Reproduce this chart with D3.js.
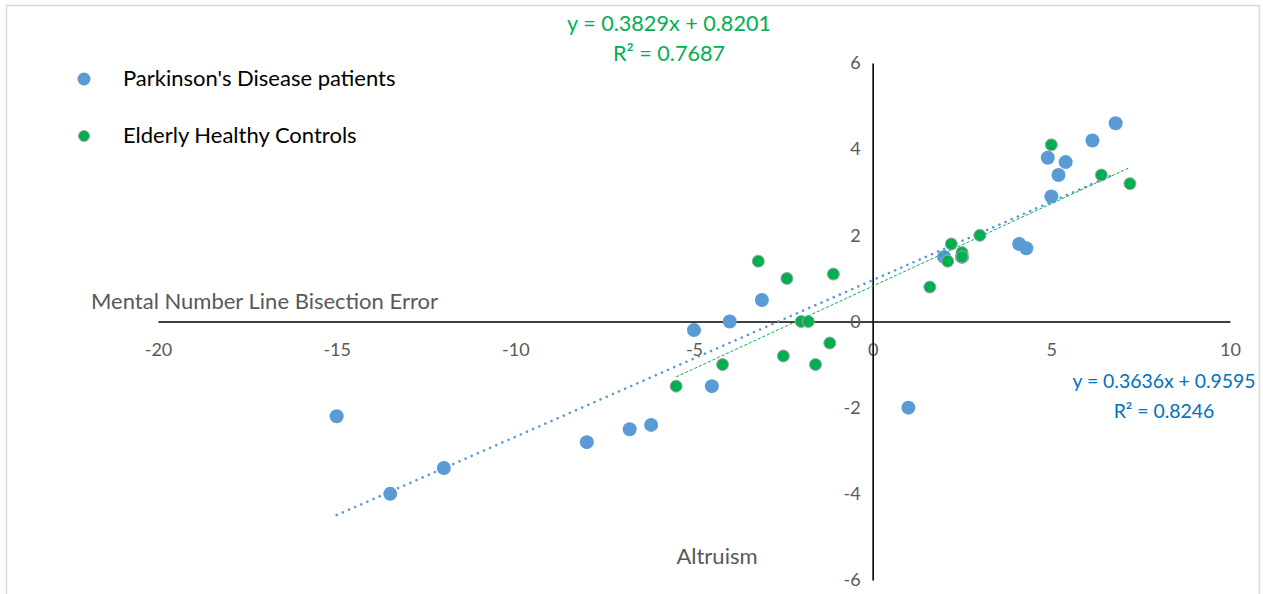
<!DOCTYPE html>
<html>
<head>
<meta charset="utf-8">
<script src="https://cdn.jsdelivr.net/npm/d3@7"></script>
<style>
  html, body { margin: 0; padding: 0; background: #fff; }
  svg text { font-family: Lato, "Open Sans", sans-serif; }
</style>
</head>
<body>
<div id="chart"></div>
<script>
// --- Data ---
const pdX = [-15, -13.5, -12, -8, -6.8, -6.2, -5, -4.5, -4, -3.1, 1, 2, 2.5, 4.1, 4.3, 4.9, 5.2, 5.4, 5, 6.15, 6.8];
const pdY = [-2.2, -4, -3.4, -2.8, -2.5, -2.4, -0.2, -1.5, 0, 0.5, -2, 1.5, 1.5, 1.8, 1.7, 3.8, 3.4, 3.7, 2.9, 4.2, 4.6];
const hcX = [-3.2, -2.4, -1.1, -2, -1.8, -1.2, -2.5, -1.6, -4.2, -5.5, 5, 6.4, 7.2, 3, 2.2, 2.5, 2.5, 2.1, 1.6];
const hcY = [1.4, 1, 1.1, 0, 0, -0.5, -0.8, -1, -1, -1.5, 4.1, 3.4, 3.2, 2, 1.8, 1.6, 1.5, 1.4, 0.8];
const xTicks = [-20, -15, -10, -5, 0, 5, 10];
const yTicks = [-6, -4, -2, 0, 2, 4, 6];
const seriesNames = ["Parkinson's Disease patients", "Elderly Healthy Controls"];
const pdFit = { slope: 0.3636, intercept: 0.9595, r2: 0.8246 };
const hcFit = { slope: 0.3829, intercept: 0.8201, r2: 0.7687 };

// --- Setup ---
const W = 1263, H = 594;
const svg = d3.select('#chart').append('svg').attr('width', W).attr('height', H);

svg.append('rect').attr('x', 6.5).attr('y', 5.5).attr('width', 1253).attr('height', 600)
  .attr('fill', '#fff').attr('stroke', '#d9d9d9').attr('stroke-width', 1.5);

const x = d3.scaleLinear().domain([-20, 10]).range([158, 1230]);
const y = d3.scaleLinear().domain([-6, 6]).range([580, 63]);

const blue = '#5b9bd5', green = '#00b050', grey = '#595959';

// --- Axes (crossing at origin) ---
const fmt = d => String(d); // plain hyphen minus, like the original
const xAxis = svg.append('g').attr('transform', `translate(0,${y(0)})`)
  .call(d3.axisBottom(x).tickValues(xTicks).tickFormat(fmt).tickSize(0).tickPadding(22));
const yAxis = svg.append('g').attr('transform', `translate(${x(0)},0)`)
  .call(d3.axisLeft(y).tickValues(yTicks).tickFormat(fmt).tickSize(0).tickPadding(12));
[xAxis, yAxis].forEach(a => {
  a.select('.domain').attr('stroke', '#000').attr('stroke-width', 1.6);
  a.selectAll('text').attr('fill', grey).style('font-size', '18px')
    .style('font-family', 'Lato, "Open Sans", sans-serif');
});

// --- Trendlines ---
function fitLine(xs, fit) {
  const [x0, x1] = d3.extent(xs);
  return [[x0, fit.slope * x0 + fit.intercept], [x1, fit.slope * x1 + fit.intercept]];
}
const line = d3.line().x(d => x(d[0])).y(d => y(d[1]));
svg.append('path').attr('d', line(fitLine(pdX, pdFit)))
  .attr('stroke', blue).attr('stroke-width', 2.6).attr('fill', 'none')
  .attr('stroke-linecap', 'round').attr('stroke-dasharray', '0.1 6.6');

// --- Points ---
const pd = pdX.map((v, i) => ({ x: v, y: pdY[i] }));
const hc = hcX.map((v, i) => ({ x: v, y: hcY[i] }));

svg.append('g').selectAll('circle').data(pd).join('circle')
  .attr('cx', d => x(d.x)).attr('cy', d => y(d.y)).attr('r', 7)
  .attr('fill', blue);

svg.append('path').attr('d', line(fitLine(hcX, hcFit)))
  .attr('stroke', green).attr('stroke-width', 1).attr('fill', 'none')
  .attr('stroke-dasharray', '3 2');

svg.append('g').selectAll('circle').data(hc).join('circle')
  .attr('cx', d => x(d.x)).attr('cy', d => y(d.y)).attr('r', 6)
  .attr('fill', green).attr('stroke', '#a5a5a5').attr('stroke-width', 1);

// --- Axis titles ---
svg.append('text').attr('x', 91).attr('y', 309).attr('fill', grey)
  .style('font-size', '22px').text('Mental Number Line Bisection Error');
svg.append('text').attr('x', 717).attr('y', 564).attr('text-anchor', 'middle').attr('fill', grey)
  .style('font-size', '22px').text('Altruism');

// --- Equations ---
function eq(fit, cx, by, color, size) {
  const t = svg.append('g').attr('fill', color).style('font-size', size + 'px');
  t.append('text').attr('x', cx).attr('y', by).attr('text-anchor', 'middle')
    .text(`y = ${fit.slope}x + ${fit.intercept}`);
  t.append('text').attr('x', cx).attr('y', by + 30).attr('text-anchor', 'middle')
    .text(`R² = ${fit.r2}`);
}
eq(hcFit, 669, 31, green, 21.6);
eq(pdFit, 1164, 388, '#0070c0', 19.4);

// --- Legend ---
const legend = svg.append('g');
[[blue, null], [green, '#a5a5a5']].forEach(([c, s], i) => {
  const ly = 79 + i * 57;
  legend.append('circle').attr('cx', 84).attr('cy', ly).attr('r', s ? 5.5 : 6.5)
    .attr('fill', c).attr('stroke', s).attr('stroke-width', s ? 1 : 0);
  legend.append('text').attr('x', 123).attr('y', ly + 7).attr('fill', '#000')
    .style('font-size', '22px').text(seriesNames[i]);
});
</script>
</body>
</html>
